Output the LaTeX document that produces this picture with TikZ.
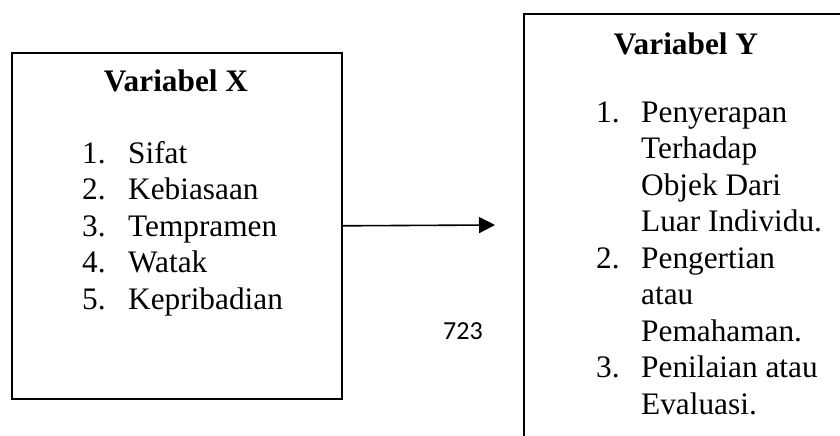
\documentclass[tikz,border=0pt]{standalone}
\usepackage{fontspec}
\setmainfont{Liberation Serif}
\newfontfamily\calibrifont{Carlito}
\usetikzlibrary{arrows.meta}
\begin{document}
\begin{tikzpicture}[x=1pt,y=-1pt,
  box/.style={draw, line width=1.6pt, inner sep=0pt, anchor=north west},
  titletext/.style={font=\fontsize{31.3}{36}\selectfont\bfseries, anchor=base, inner sep=0pt},
  itemtext/.style={font=\fontsize{31.3}{36}\selectfont, anchor=base west, inner sep=0pt},
  pagenum/.style={font=\calibrifont\fontsize{26}{30}\selectfont, anchor=base, inner sep=0pt},
  conn/.style={line width=1.6pt, -{Triangle[length=16pt,width=16pt]}}
]
\useasboundingbox (0,0) rectangle (840,436);
\clip (0,0) rectangle (840,436);
\node[box, minimum width=330pt, minimum height=346pt] (bx) at (11,52) {};
\node[box, minimum width=330pt, minimum height=460pt] (by) at (523,13) {};
% left box
\node[titletext] (tx) at (176,92) {Variabel X};
\foreach \n/\t [count=\i] in {1./Sifat, 2./Kebiasaan, 3./Tempramen, 4./Watak, 5./Kepribadian}{
  \node[itemtext] (nx\i) at ({82},{163+36.5*(\i-1)}) {\n};
  \node[itemtext] (ix\i) at ({128},{163+36.5*(\i-1)}) {\t};
}
% right box
\node[titletext] (ty) at (686,55) {Variabel Y};
\node[itemtext] (ny1) at (596,122) {1.};
\node[itemtext] (ny2) at (596,268) {2.};
\node[itemtext] (ny3) at (596,377.5) {3.};
\foreach \t [count=\i] in {Penyerapan, Terhadap, Objek Dari, Luar Individu., Pengertian, atau, Pemahaman., Penilaian atau, Evaluasi.}{
  \node[itemtext] (iy\i) at ({641},{122+36.5*(\i-1)}) {\t};
}
% arrow
\coordinate (tip) at (495,225);
\draw[conn] (bx.east) -- (tip);
% page number
\node[pagenum] (pg) at (463,339) {723};
\end{tikzpicture}
\end{document}
